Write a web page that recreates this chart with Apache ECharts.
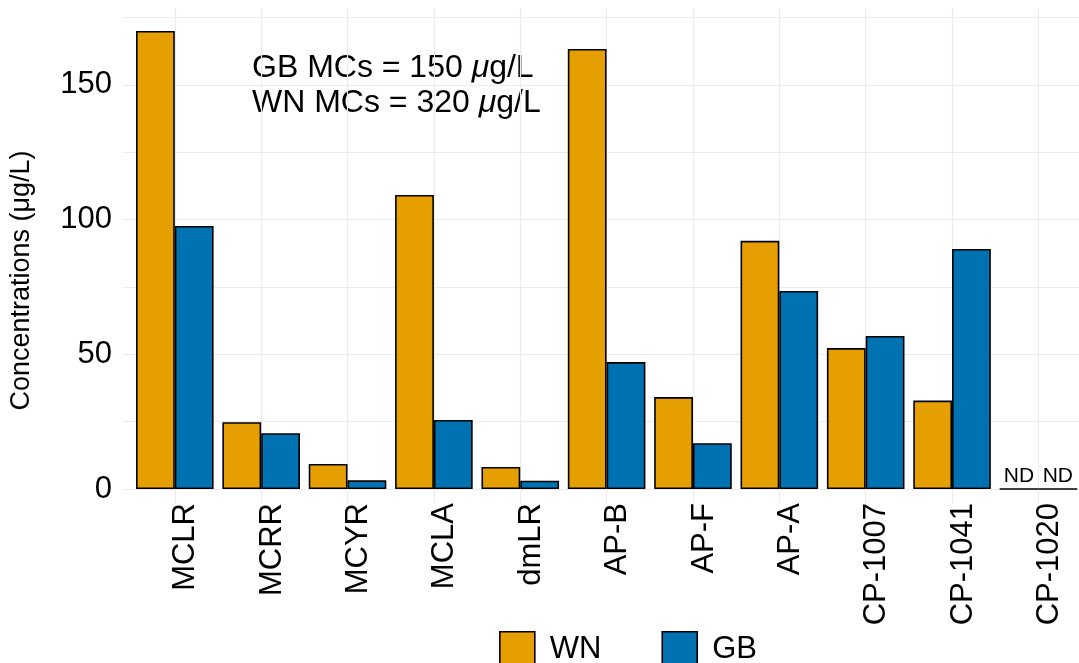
<!DOCTYPE html>
<html>
<head>
<meta charset="utf-8">
<script src="https://cdn.jsdelivr.net/npm/echarts@6/dist/echarts.min.js"></script>
<style>
  html, body { margin: 0; padding: 0; background: #fff; }
  #chart { width: 1079px; height: 663px; }
</style>
</head>
<body>
<div id="chart"></div>
<script>
var categories = ['MCLR', 'MCRR', 'MCYR', 'MCLA', 'dmLR', 'AP-B', 'AP-F', 'AP-A', 'CP-1007', 'CP-1041', 'CP-1020'];
var wnValues = [170, 24.8, 9.3, 109.1, 8.2, 163.3, 34.1, 92.1, 52.3, 32.8, 0];
var gbValues = [97.6, 20.7, 3.2, 25.6, 3.1, 47.1, 17.0, 73.5, 56.8, 89.1, 0];
var yTickLabels = [0, 50, 100, 150];
var totals = [['GB', 150], ['WN', 320]];

var font = 'Liberation Sans, Arial, Helvetica, sans-serif';
var colors = { WN: '#E69F00', GB: '#0072B2' };

var myChart = echarts.init(document.getElementById('chart'));

function barSeries(name, values) {
  return {
    name: name,
    type: 'bar',
    barWidth: 38.8,
    barGap: '0%',
    data: values.map(function (v, i) { return [i, v]; }),
    itemStyle: { color: colors[name], borderColor: '#000', borderWidth: 1.6 },
    label: {
      show: true,
      position: 'top',
      distance: 1,
      fontFamily: font,
      fontSize: 21,
      color: '#000',
      // not detected
      formatter: function (p) { return p.value[1] === 0 ? 'ND' : ''; }
    }
  };
}

var noteText = totals.map(function (t) {
  return t[0] + ' MCs = ' + t[1] + ' {i|\u03bc}g/L';
}).join('\n');

var option = {
  animation: false,
  textStyle: { fontFamily: font },
  grid: { left: 123, right: 0, top: 8, bottom: 160 },
  legend: {
    data: ['WN', 'GB'],
    left: 494,
    top: 626,
    icon: 'rect',
    itemWidth: 35,
    itemHeight: 35,
    itemGap: 60,
    itemStyle: { borderColor: '#000', borderWidth: 1.6 },
    textStyle: { fontFamily: font, fontSize: 31, color: '#000', padding: [0, 0, 0, 10] }
  },
  xAxis: {
    type: 'value',
    min: -0.6,
    max: 10.47,
    minInterval: 1,
    maxInterval: 1,
    axisLine: { show: false },
    axisTick: { show: false },
    splitLine: { show: true, showMinLine: false, showMaxLine: false, lineStyle: { color: '#ebebeb', width: 1.2 } },
    axisLabel: {
      rotate: 90,
      margin: 0,
      showMinLabel: false,
      showMaxLabel: false,
      fontFamily: font,
      fontSize: 31,
      color: '#000',
      verticalAlign: 'top',
      lineHeight: 22,
      formatter: function (v) {
        return Number.isInteger(v) && categories[v] ? categories[v] : '';
      }
    }
  },
  yAxis: {
    type: 'value',
    min: -5.2,
    max: 178.5,
    minInterval: 25,
    maxInterval: 25,
    name: 'Concentrations (\u03bcg/L)',
    nameLocation: 'middle',
    nameRotate: 90,
    nameGap: 88,
    nameTextStyle: { fontFamily: font, fontSize: 27, color: '#000', padding: [0, 50, 0, 0] },
    axisLine: { show: false },
    axisTick: { show: false },
    splitLine: { show: true, showMinLine: false, showMaxLine: false, lineStyle: { color: '#ebebeb', width: 1.2 } },
    axisLabel: {
      margin: 11,
      fontFamily: font,
      fontSize: 31,
      color: '#000',
      formatter: function (v) { return yTickLabels.indexOf(v) >= 0 ? String(v) : ''; }
    }
  },
  graphic: [{
    type: 'text',
    left: 252,
    top: 51,
    style: {
      text: noteText,
      font: '32px ' + font,
      fill: '#000',
      lineHeight: 35,
      rich: { i: { fontStyle: 'italic', fontSize: 32, fontFamily: font, lineHeight: 35 } }
    }
  }],
  series: [barSeries('WN', wnValues), barSeries('GB', gbValues)]
};

option && myChart.setOption(option);
</script>
</body>
</html>
